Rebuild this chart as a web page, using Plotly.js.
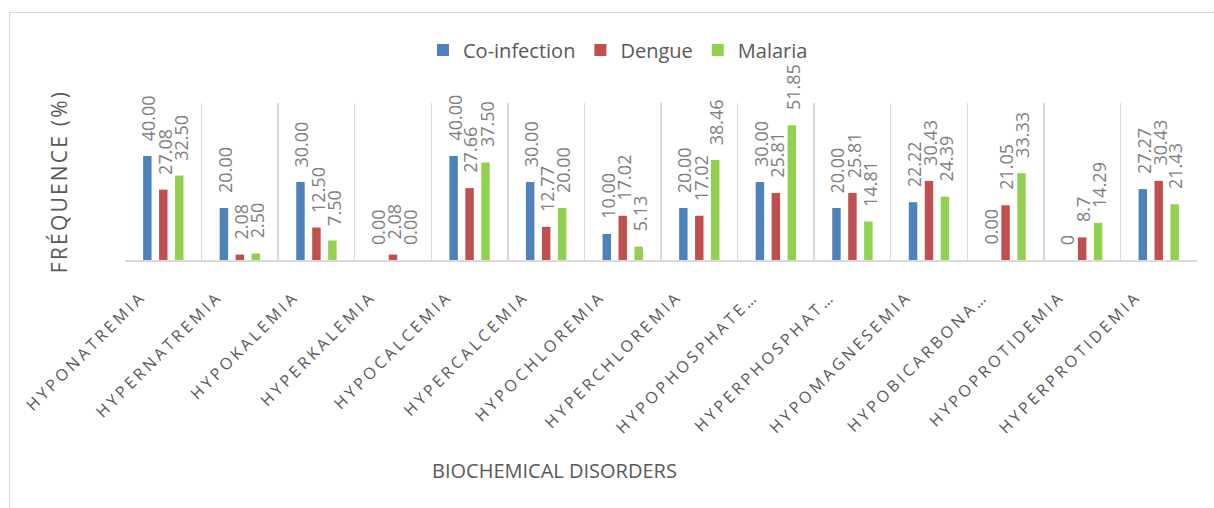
<!DOCTYPE html>
<html>
<head>
<meta charset="utf-8">
<script src="https://cdn.plot.ly/plotly-3.0.1.min.js"></script>
<style>
  html, body { margin: 0; padding: 0; background: #fff; overflow: hidden; }
  #wrap { position: relative; width: 1214px; height: 508px; overflow: hidden; }
  #frame { position: absolute; left: 9px; top: 12px; width: 1300px; height: 600px; border: 1.5px solid #d9d9d9; box-sizing: border-box; pointer-events: none; }
  #chart { position: absolute; left: 0; top: 0; width: 1214px; height: 508px; }
  .xtick text { letter-spacing: 3.3px; }
  .g-ytitle text { letter-spacing: 2.2px; }
</style>
</head>
<body>
<div id="wrap">
  <div id="frame"></div>
  <div id="chart"></div>
</div>
<script>
const categories = ["HYPONATREMIA", "HYPERNATREMIA", "HYPOKALEMIA", "HYPERKALEMIA", "HYPOCALCEMIA", "HYPERCALCEMIA", "HYPOCHLOREMIA", "HYPERCHLOREMIA", "HYPOPHOSPHATE…", "HYPERPHOSPHAT…", "HYPOMAGNESEMIA", "HYPOBICARBONA…", "HYPOPROTIDEMIA", "HYPERPROTIDEMIA"];
const seriesNames = ["Co-infection", "Dengue", "Malaria"];
const coinfection = [40, 20, 30, 0, 40, 30, 10, 20, 30, 20, 22.22, 0, 0, 27.27];
const dengue = [27.08, 2.08, 12.5, 2.08, 27.66, 12.77, 17.02, 17.02, 25.81, 25.81, 30.43, 21.05, 8.7, 30.43];
const malaria = [32.5, 2.5, 7.5, 0, 37.5, 20, 5.13, 38.46, 51.85, 14.81, 24.39, 33.33, 14.29, 21.43];
const coinfectionLabels = ["40.00", "20.00", "30.00", "0.00", "40.00", "30.00", "10.00", "20.00", "30.00", "20.00", "22.22", "0.00", "0", "27.27"];
const dengueLabels = ["27.08", "2.08", "12.50", "2.08", "27.66", "12.77", "17.02", "17.02", "25.81", "25.81", "30.43", "21.05", "8.7", "30.43"];
const malariaLabels = ["32.50", "2.50", "7.50", "0.00", "37.50", "20.00", "5.13", "38.46", "51.85", "14.81", "24.39", "33.33", "14.29", "21.43"];

const colors = ["#4f81bd", "#c0504d", "#92d050"];
const values = [coinfection, dengue, malaria];
const labels = [coinfectionLabels, dengueLabels, malariaLabels];

const W = 1214, H = 508;
const margin = { l: 125, r: 17, t: 103, b: 248, pad: 0 };
const plotW = W - margin.l - margin.r;
const plotH = H - margin.t - margin.b;
const bargap = 0.375;
const catW = plotW / categories.length;
const slotW = catW * (1 - bargap) / 3;

const FONT = "'Open Sans', 'Noto Sans', sans-serif";

const traces = values.map((v, k) => ({
  type: "bar",
  name: seriesNames[k],
  x: categories,
  y: v,
  marker: { color: colors[k] },
  hoverinfo: "none"
}));

const annotations = [];
values.forEach((v, k) => {
  v.forEach((val, i) => {
    annotations.push({
      x: categories[i], y: val, xref: "x", yref: "y",
      text: labels[k][i], showarrow: false, textangle: -90,
      xanchor: "center", yanchor: "bottom",
      xshift: (k - 1) * slotW + 1, yshift: 13,
      font: { family: FONT, size: 18, color: "#7f7f7f" }
    });
  });
});
annotations.push({
  text: "BIOCHEMICAL DISORDERS", xref: "paper", yref: "paper",
  x: (554 - margin.l) / plotW, y: -(470 - (H - margin.b)) / plotH,
  xanchor: "center", yanchor: "middle", showarrow: false,
  font: { family: FONT, size: 20, color: "#595959" }
});

const layout = {
  width: W, height: H,
  margin: margin,
  paper_bgcolor: "rgba(0,0,0,0)",
  plot_bgcolor: "rgba(0,0,0,0)",
  barmode: "group",
  bargap: bargap,
  bargroupgap: 0.47,
  font: { family: FONT, color: "#595959" },
  showlegend: true,
  legend: {
    orientation: "h",
    x: (618 - margin.l) / plotW, xanchor: "center",
    y: ((H - margin.b) - 50) / plotH, yanchor: "middle",
    font: { family: FONT, size: 20, color: "#595959" },
    itemclick: false, itemdoubleclick: false
  },
  xaxis: {
    type: "category",
    tickson: "boundaries",
    showgrid: true,
    gridcolor: "#d9d9d9",
    gridwidth: 1.5,
    showline: true,
    linecolor: "#d9d9d9",
    linewidth: 2,
    ticks: "",
    tickangle: -45,
    tickfont: { family: FONT, size: 16, color: "#595959" },
    ticklabelshift: -22,
    ticklabelstandoff: 19,
    fixedrange: true
  },
  yaxis: {
    range: [0, 60.4],
    showgrid: false,
    zeroline: false,
    showline: false,
    showticklabels: false,
    ticks: "",
    title: { text: "FRÉQUENCE (%)", font: { family: FONT, size: 21, color: "#595959" }, standoff: 50 },
    fixedrange: true
  },
  annotations: annotations
};

Plotly.newPlot("chart", traces, layout, { displayModeBar: false, staticPlot: true });
</script>
</body>
</html>
